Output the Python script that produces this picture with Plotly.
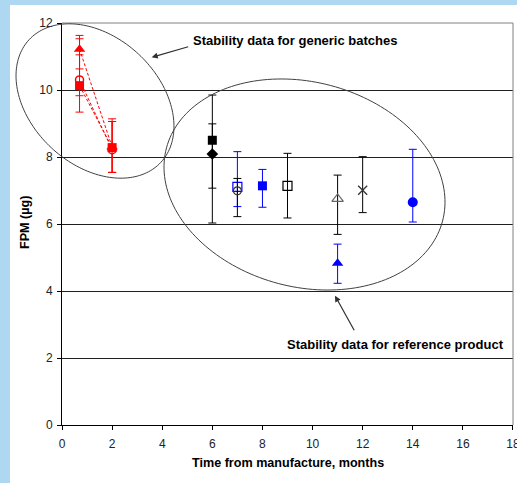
import numpy as np
import plotly.graph_objects as go

# ---------------- data ----------------
# Generic batches (red), measured at ~0.7 and 2 months
gen_x = [0.7, 2.0]
gen_tri_y = [11.22, 8.30]
gen_tri_up = [0.41, 0.84]
gen_tri_dn = [0.59, 0.76]
gen_circ_y = [10.30, 8.22]
gen_circ_up = [1.23, 0.84]
gen_circ_dn = [0.47, 0.68]
gen_sq_y = [10.13, 8.28]
gen_sq_up = [0.92, 0.78]
gen_sq_dn = [0.79, 0.74]

# Reference product batches
ref_x = [6, 6, 7, 7, 8, 9, 11, 11, 12, 14]
ref_y = [8.50, 8.09, 7.11, 6.99, 7.14, 7.14, 6.75, 4.83, 7.01, 6.65]
ref_up = [1.35, 0.90, 1.05, 0.37, 0.49, 0.97, 0.71, 0.57, 1.00, 1.58]
ref_dn = [1.43, 2.06, 0.59, 0.77, 0.64, 0.96, 1.06, 0.60, 0.67, 0.59]

x_ticks = [0, 2, 4, 6, 8, 10, 12, 14, 16, 18]
y_ticks = [0, 2, 4, 6, 8, 10, 12]

# ---------------- styling ----------------
W, H = 517, 483
ML, MR, MT, MB = 62, 4, 23, 58
XR = (0, 18.0005)
YR = (0, 12.0005)
PW = W - ML - MR
PH = H - MT - MB
SX = PW / (XR[1] - XR[0])
SY = PH / (YR[1] - YR[0])

RED = "#ff0000"
BLUE = "#0000ff"
BLACK = "#000000"
FONT = "Liberation Sans, Arial, sans-serif"


def px_to_data(px, py):
    return (np.asarray(px) - ML) / SX + XR[0], (MT + PH - np.asarray(py)) / SY + YR[0]


def px_to_paper(px, py):
    return (np.asarray(px) - ML) / PW, (MT + PH - np.asarray(py)) / PH


def ellipse_path(cx, cy, a, b, theta_deg, n=180):
    t = np.linspace(0, 2 * np.pi, n, endpoint=False)
    th = np.radians(theta_deg)
    px = cx + a * np.cos(t) * np.cos(th) - b * np.sin(t) * np.sin(th)
    py = cy + a * np.cos(t) * np.sin(th) + b * np.sin(t) * np.cos(th)
    dx, dy = px_to_paper(px, py)
    pts = [f"{x:.5f},{y:.5f}" for x, y in zip(dx, dy)]
    return "M " + " L ".join(pts) + " Z"


fig = go.Figure()

# dashed connecting lines for generic batches
for ys in (gen_tri_y, gen_circ_y, gen_sq_y):
    fig.add_trace(go.Scatter(x=gen_x, y=ys, mode="lines",
                             line=dict(color=RED, width=1, dash="3px,2px"),
                             hoverinfo="skip", showlegend=False))

gen_series = [
    (gen_tri_y, gen_tri_up, gen_tri_dn, dict(symbol="triangle-up", size=10, color=RED)),
    (gen_circ_y, gen_circ_up, gen_circ_dn, dict(symbol="circle", size=8, color="white",
                                                line=dict(color=RED, width=1.5))),
    (gen_sq_y, gen_sq_up, gen_sq_dn, dict(symbol="square", size=9, color=RED)),
]
for ys, up, dn, mk in gen_series:
    fig.add_trace(go.Scatter(
        x=gen_x, y=ys, mode="markers", marker=mk,
        error_y=dict(type="data", symmetric=False, array=up, arrayminus=dn,
                     color=RED, thickness=1, width=4),
        showlegend=False))

ref_styles = [
    dict(symbol="square", size=9, color=BLACK),
    dict(symbol="diamond", size=9, color=BLACK),
    dict(symbol="square-open", size=9, color=BLUE, line=dict(width=1.2)),
    dict(symbol="circle-open", size=8, color="#333333", line=dict(width=1.2)),
    dict(symbol="square", size=9, color=BLUE),
    dict(symbol="square-open", size=9, color=BLACK, line=dict(width=1.2)),
    dict(symbol="triangle-up-open", size=10, color="#666666", line=dict(width=1.2)),
    dict(symbol="triangle-up", size=10, color=BLUE),
    dict(symbol="x-thin-open", size=9, color="#333333", line=dict(width=1.3)),
    dict(symbol="circle", size=10, color=BLUE),
]
ref_err_colors = [BLACK, BLACK, BLUE, BLACK, BLUE, BLACK, BLACK, BLUE, BLACK, BLUE]
for i in range(len(ref_x)):
    fig.add_trace(go.Scatter(
        x=[ref_x[i]], y=[ref_y[i]], mode="markers", marker=ref_styles[i],
        error_y=dict(type="data", symmetric=False, array=[ref_up[i]],
                     arrayminus=[ref_dn[i]], color=ref_err_colors[i],
                     thickness=1, width=4),
        showlegend=False))

# ---------------- shapes ----------------
shapes = []
# white card over light-blue page background
x0p = (10 - ML) / PW
y1p = (MT + PH - 5) / PH
shapes.append(dict(type="rect", xref="paper", yref="paper", x0=x0p, x1=1.2,
                   y0=-0.3, y1=y1p, fillcolor="white", line=dict(width=0),
                   layer="below"))
# plot-area border (top and right, grey)
shapes.append(dict(type="line", xref="paper", yref="paper", x0=0, x1=1, y0=1, y1=1,
                   line=dict(color="#808080", width=1), layer="above"))
shapes.append(dict(type="line", xref="paper", yref="paper", x0=1, x1=1, y0=0, y1=1,
                   line=dict(color="#808080", width=1), layer="above"))
# ellipses (paper-referenced so they may extend past the axes)
shapes.append(dict(type="path", xref="paper", yref="paper",
                   path=ellipse_path(95, 101, 90, 64, 43),
                   line=dict(color="#404040", width=1), layer="above"))
shapes.append(dict(type="path", xref="paper", yref="paper",
                   path=ellipse_path(304.5, 184.5, 142.8, 102.4, 14.85),
                   line=dict(color="#404040", width=1), layer="above"))

# ---------------- annotations ----------------
ann = []
tip1 = px_to_data(151.7, 57.3)
ann.append(dict(x=float(tip1[0]), y=float(tip1[1]), xref="x", yref="y", text="",
                showarrow=True, ax=38, ay=-11, arrowhead=2, arrowsize=1,
                arrowwidth=1.2, arrowcolor="#303030"))
tip2 = px_to_data(335, 295.7)
ann.append(dict(x=float(tip2[0]), y=float(tip2[1]), xref="x", yref="y", text="",
                showarrow=True, ax=20, ay=36, arrowhead=2, arrowsize=1,
                arrowwidth=1.2, arrowcolor="#303030"))
t1 = px_to_data(190.5, 40)
ann.append(dict(x=float(t1[0]), y=float(t1[1]), xref="x", yref="y",
                text="<b>Stability data for generic batches</b>", showarrow=False,
                xanchor="left", yanchor="middle",
                font=dict(family=FONT, size=13, color="#000000")))
t2 = px_to_data(285, 344)
ann.append(dict(x=float(t2[0]), y=float(t2[1]), xref="x", yref="y",
                text="<b>Stability data for reference product</b>", showarrow=False,
                xanchor="left", yanchor="middle",
                font=dict(family=FONT, size=13, color="#000000")))
# axis titles
ann.append(dict(x=(288 - ML) / PW, y=(MT + PH - 463) / PH, xref="paper", yref="paper",
                text="<b>Time from manufacture, months</b>", showarrow=False,
                xanchor="center", yanchor="middle",
                font=dict(family=FONT, size=12.6, color="#000000")))
ann.append(dict(x=(25 - ML) / PW, y=(MT + PH - 223) / PH, xref="paper", yref="paper",
                text="<b>FPM (µg)</b>", showarrow=False, textangle=-90,
                xanchor="center", yanchor="middle",
                font=dict(family=FONT, size=12.6, color="#000000")))

fig.update_layout(
    width=W, height=H,
    margin=dict(l=ML, r=MR, t=MT, b=MB, pad=0, autoexpand=False),
    paper_bgcolor="#aed8f2",
    plot_bgcolor="white",
    showlegend=False,
    shapes=shapes,
    annotations=ann,
    font=dict(family=FONT, size=12, color="#222222"),
)
fig.update_xaxes(range=list(XR), tickvals=x_ticks, ticktext=[str(v) for v in x_ticks],
                 showgrid=False, zeroline=False, showline=True, linecolor=BLACK,
                 linewidth=1, ticks="outside", ticklen=4, tickcolor=BLACK,
                 ticklabeloverflow="allow", ticklabelstandoff=4, automargin=False,
                 tickfont=dict(family=FONT, size=12, color="#222222"))
fig.update_yaxes(range=list(YR), tickvals=y_ticks, ticktext=[str(v) for v in y_ticks],
                 showgrid=True, gridcolor="#202020", gridwidth=1, zeroline=False,
                 showline=True, linecolor=BLACK, linewidth=1, ticks="outside",
                 ticklen=4, tickcolor=BLACK, ticklabelstandoff=2, automargin=False,
                 tickfont=dict(family=FONT, size=12, color="#222222"))

fig.write_html("out.html")
